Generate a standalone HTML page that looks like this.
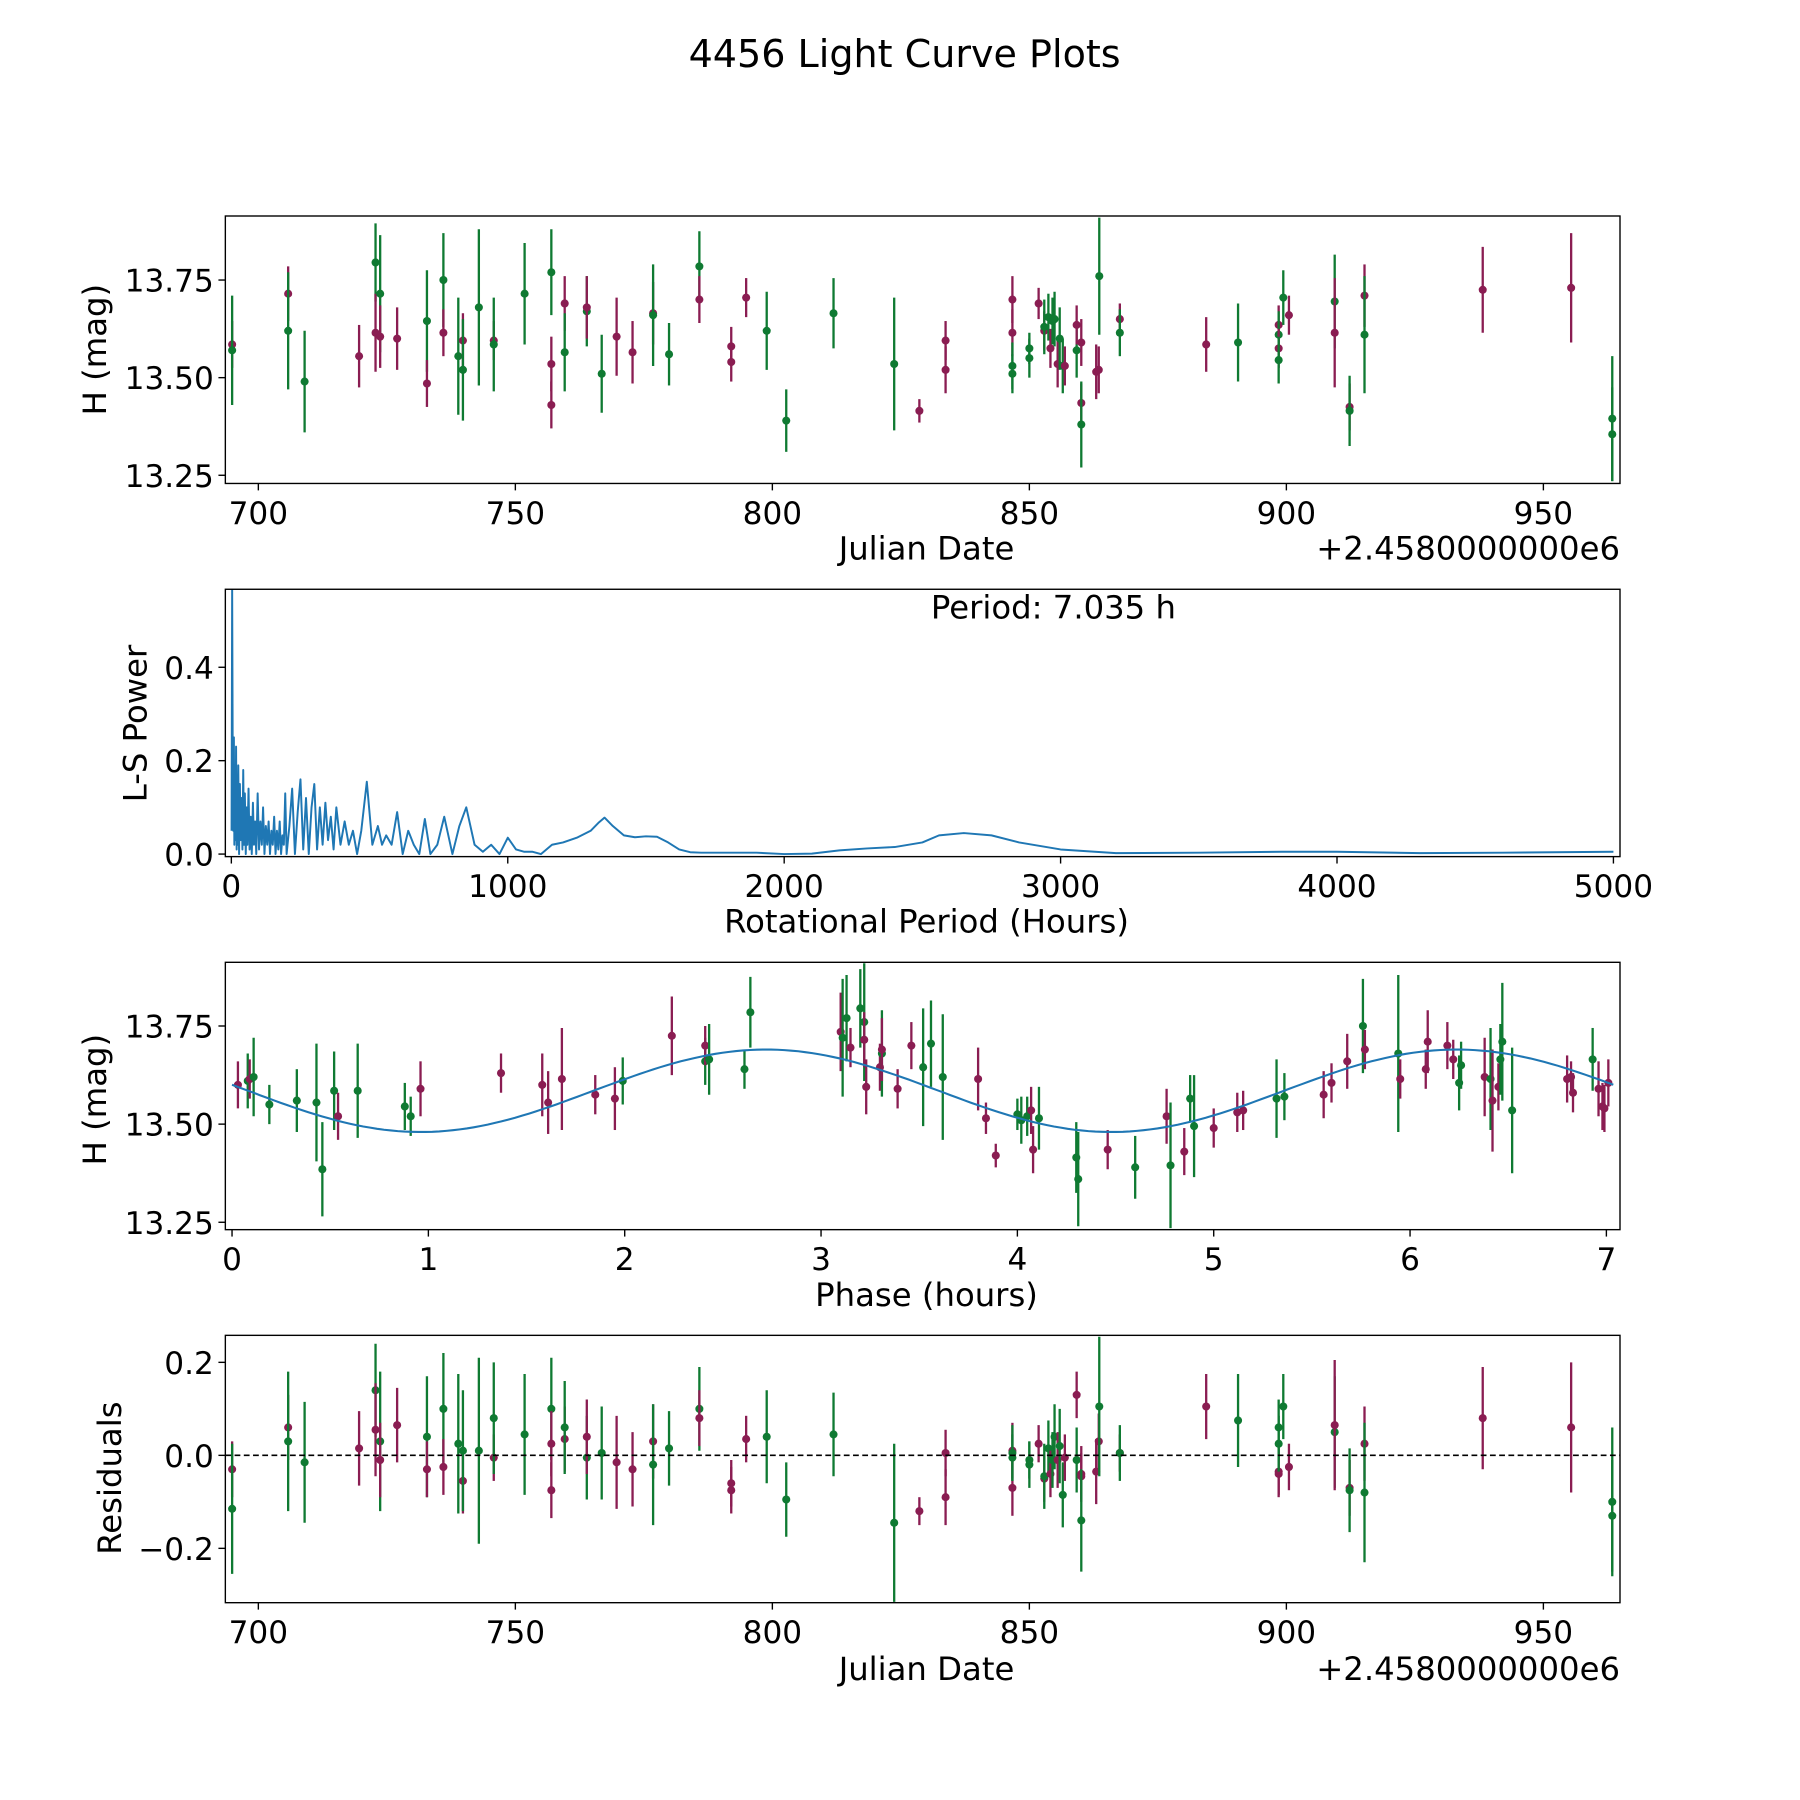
<!DOCTYPE html>
<html><head><meta charset="utf-8"><style>
html,body{margin:0;padding:0;background:#fff}
svg{display:block;font-family:"DejaVu Sans","Liberation Sans",sans-serif}
</style></head><body>
<svg id="fig" width="1800" height="1800" viewBox="0 0 1560 1560" xmlns="http://www.w3.org/2000/svg">
<rect width="1560" height="1560" fill="#fff"/>
<text x="784" y="58" font-size="33" text-anchor="middle">4456 Light Curve Plots</text>
<g id="g1"></g>
<g id="g2"></g>
<g id="g3"></g>
<g id="g4"></g>
</svg>
<script>
// ---- Light curve data (Julian date offset, H mag, error, band) ----
const jd  = [694.9,694.9,705.8,705.8,709.0,719.6,722.8,722.8,723.7,723.7,727.0,732.8,732.8,736.0,736.0,738.9,739.8,739.8,742.9,745.8,745.8,751.8,757.0,757.0,757.0,759.6,759.6,763.9,763.9,766.8,769.7,772.8,776.8,776.8,779.9,785.8,785.8,792.0,792.0,794.9,798.9,802.7,811.9,823.7,828.6,833.7,833.7,846.7,846.7,846.7,846.7,850.0,850.0,851.8,852.9,852.9,853.7,854.1,854.5,854.9,855.5,855.9,856.5,856.9,859.2,859.2,860.1,860.1,860.1,863.0,863.5,863.6,867.6,867.6,884.4,890.6,898.5,898.5,898.5,898.5,899.4,900.5,909.4,909.4,912.3,912.3,915.2,915.2,938.2,955.4,963.4,963.4];
const mag = [13.585,13.57,13.715,13.62,13.49,13.555,13.795,13.615,13.715,13.605,13.60,13.645,13.485,13.75,13.615,13.555,13.595,13.52,13.68,13.595,13.585,13.715,13.77,13.535,13.43,13.69,13.565,13.67,13.68,13.51,13.605,13.565,13.665,13.66,13.56,13.785,13.70,13.58,13.54,13.705,13.62,13.39,13.665,13.535,13.415,13.595,13.52,13.70,13.615,13.53,13.51,13.575,13.55,13.69,13.62,13.63,13.655,13.575,13.645,13.65,13.535,13.60,13.53,13.53,13.57,13.635,13.59,13.435,13.38,13.515,13.52,13.76,13.65,13.615,13.585,13.59,13.635,13.61,13.575,13.545,13.705,13.66,13.695,13.615,13.425,13.415,13.71,13.61,13.725,13.73,13.395,13.355];
const err = [0.06,0.14,0.07,0.15,0.13,0.08,0.1,0.1,0.15,0.08,0.08,0.13,0.06,0.12,0.06,0.15,0.07,0.13,0.2,0.05,0.12,0.13,0.11,0.07,0.06,0.07,0.1,0.09,0.08,0.1,0.1,0.08,0.08,0.13,0.08,0.09,0.06,0.05,0.05,0.05,0.1,0.08,0.09,0.17,0.03,0.05,0.06,0.06,0.06,0.06,0.05,0.04,0.05,0.04,0.05,0.07,0.06,0.05,0.06,0.07,0.06,0.08,0.07,0.05,0.07,0.05,0.06,0.05,0.11,0.07,0.06,0.15,0.04,0.06,0.07,0.1,0.05,0.06,0.05,0.06,0.07,0.05,0.12,0.14,0.06,0.09,0.08,0.15,0.11,0.14,0.16,0.12];
const band= ["P","G","P","G","G","P","G","P","G","P","P","G","P","G","P","G","P","G","G","P","G","G","G","P","P","P","G","G","P","G","P","P","P","G","G","G","P","P","P","P","G","G","G","G","P","P","P","P","P","G","G","G","G","P","P","G","G","P","G","G","P","G","G","P","G","P","P","P","G","P","P","G","P","G","P","G","P","G","P","G","G","P","G","P","P","G","P","G","P","P","G","G"];
const resid=[-0.03,-0.115,0.06,0.03,-0.015,0.015,0.14,0.055,0.03,-0.01,0.065,0.04,-0.03,0.10,-0.025,0.025,-0.055,0.01,0.01,-0.005,0.08,0.045,0.10,0.025,-0.075,0.035,0.06,-0.005,0.04,0.005,-0.015,-0.03,0.03,-0.02,0.015,0.10,0.08,-0.06,-0.075,0.035,0.04,-0.095,0.045,-0.145,-0.12,0.005,-0.09,0.01,-0.07,0.005,-0.005,-0.01,-0.02,0.025,-0.05,-0.045,0.015,-0.04,-0.01,0.04,-0.01,0.02,-0.085,-0.005,-0.01,0.13,-0.04,-0.045,-0.14,-0.035,0.03,0.105,0.005,0.005,0.105,0.075,-0.035,0.06,-0.04,0.025,0.105,-0.025,0.05,0.065,-0.07,-0.075,0.025,-0.08,0.08,0.06,-0.10,-0.13];
// ---- Phase-folded data ----
const phs = [0.03,0.08,0.09,0.11,0.19,0.33,0.43,0.46,0.52,0.54,0.64,0.88,0.91,0.96,1.37,1.58,1.61,1.68,1.85,1.95,1.99,2.24,2.41,2.41,2.43,2.61,2.64,3.10,3.11,3.13,3.15,3.20,3.22,3.22,3.23,3.30,3.31,3.31,3.39,3.46,3.52,3.56,3.62,3.80,3.84,3.89,4.00,4.02,4.05,4.07,4.08,4.11,4.30,4.31,4.46,4.60,4.76,4.78,4.85,4.88,4.90,5.00,5.12,5.15,5.32,5.36,5.56,5.60,5.68,5.76,5.77,5.94,5.95,6.08,6.09,6.19,6.22,6.25,6.26,6.38,6.41,6.42,6.45,6.46,6.47,6.52,6.80,6.82,6.83,6.93,6.96,6.98,6.99,7.01];
const pmag= [13.60,13.61,13.615,13.62,13.55,13.56,13.555,13.385,13.585,13.52,13.585,13.545,13.52,13.59,13.63,13.60,13.555,13.615,13.575,13.565,13.61,13.725,13.66,13.70,13.665,13.64,13.785,13.735,13.72,13.77,13.695,13.795,13.76,13.715,13.595,13.645,13.68,13.69,13.59,13.70,13.645,13.705,13.62,13.615,13.515,13.42,13.525,13.51,13.52,13.535,13.435,13.515,13.415,13.36,13.435,13.39,13.52,13.395,13.43,13.565,13.495,13.49,13.53,13.535,13.565,13.57,13.575,13.605,13.66,13.75,13.69,13.68,13.615,13.64,13.71,13.70,13.665,13.605,13.65,13.62,13.615,13.56,13.595,13.665,13.71,13.535,13.615,13.62,13.58,13.665,13.59,13.545,13.54,13.605];
const perr= [0.06,0.07,0.05,0.1,0.05,0.08,0.15,0.12,0.1,0.06,0.12,0.06,0.05,0.07,0.05,0.08,0.08,0.13,0.05,0.08,0.06,0.1,0.06,0.05,0.09,0.05,0.09,0.1,0.15,0.11,0.05,0.1,0.15,0.07,0.07,0.06,0.11,0.08,0.05,0.06,0.15,0.11,0.16,0.08,0.04,0.03,0.04,0.06,0.05,0.06,0.06,0.08,0.09,0.12,0.05,0.08,0.07,0.16,0.06,0.06,0.13,0.05,0.05,0.05,0.1,0.06,0.06,0.05,0.07,0.12,0.05,0.2,0.05,0.05,0.08,0.06,0.05,0.07,0.06,0.1,0.13,0.13,0.06,0.09,0.15,0.16,0.06,0.04,0.05,0.08,0.07,0.06,0.06,0.06];
const pband=["P","G","P","G","G","G","G","G","G","P","G","G","G","P","P","P","P","P","P","P","G","P","G","P","G","G","G","P","G","G","P","G","G","P","P","P","G","P","P","P","G","G","G","P","P","P","G","G","G","P","P","G","G","G","P","G","P","G","P","G","G","P","P","P","G","G","P","P","P","G","P","G","P","P","P","P","P","G","G","P","G","P","P","G","G","G","P","P","P","G","P","P","P","P"];
// ---- Sinusoid fit params: mean, amplitude, peak phase, sub-period ----
const fitMean=[13.585], fitAmp=[0.105], fitPeak=[2.72], fitSub=[3.5175];
// ---- Periodogram samples ----
const perX=[1,3,5,7,9,11,13,15,17,19,21,23,25,28,31,34,37,40,43,46,49,52,55,58,62,66,70,74,78,82,86,90,95,100,105,110,115,120,125,130,135,140,145,150,155,160,165,170,175,180,185,190,195,200,210,220,230,240,250,260,270,280,290,300,310,320,330,340,350,360,370,380,395,410,425,440,455,470,490,510,530,545,560,580,600,620,640,660,680,700,720,745,770,800,825,850,880,910,940,970,1000,1030,1060,1090,1120,1160,1200,1250,1300,1330,1350,1380,1420,1460,1500,1540,1580,1620,1660,1700,1800,1900,2000,2100,2200,2300,2400,2500,2560,2650,2750,2850,3000,3200,3500,3800,4000,4300,4600,5000];
const perY=[0.05,0.57,0.2,0.05,0.25,0.02,0.18,0.03,0.23,0.01,0.12,0.02,0.19,0.0,0.15,0.03,0.12,0.01,0.18,0.02,0.13,0.0,0.1,0.02,0.14,0.01,0.08,0.0,0.11,0.02,0.07,0.0,0.13,0.01,0.07,0.02,0.1,0.0,0.06,0.02,0.07,0.0,0.05,0.02,0.08,0.0,0.05,0.01,0.07,0.0,0.04,0.02,0.13,0.0,0.06,0.14,0.0,0.09,0.16,0.01,0.12,0.0,0.1,0.15,0.01,0.1,0.02,0.11,0.03,0.08,0.01,0.1,0.02,0.07,0.02,0.05,0.0,0.05,0.155,0.02,0.06,0.02,0.04,0.02,0.09,0.0,0.05,0.02,0.0,0.075,0.0,0.02,0.08,0.0,0.06,0.1,0.02,0.005,0.02,0.0,0.035,0.01,0.005,0.005,0.0,0.02,0.025,0.035,0.05,0.068,0.078,0.06,0.04,0.036,0.038,0.037,0.025,0.01,0.004,0.003,0.003,0.003,0.0,0.001,0.008,0.012,0.015,0.025,0.04,0.045,0.04,0.025,0.01,0.002,0.003,0.005,0.005,0.002,0.003,0.005,0.008];
const tickJD=[700,750,800,850,900,950], tickMag=["13.25","13.50","13.75"], tickPer=[0,1000,2000,3000,4000,5000], tickPow=["0.0","0.2","0.4"], tickPh=[0,1,2,3,4,5,6,7], tickRes=["−0.2","0.0","0.2"];
const tickMagV=[13.25,13.5,13.75], tickPowV=[0,0.2,0.4], tickResV=[-0.2,0,0.2];

const NS="http://www.w3.org/2000/svg";
const COL={P:"#8a1d52",G:"#0f7a32"};
function mk(parent,tag,attrs){const e=document.createElementNS(NS,tag);for(const k in attrs)e.setAttribute(k,attrs[k]);parent.appendChild(e);return e;}
const L=195.3,R=1404;
const FS=27, LS=28;
function lin(d0,d1,r0,r1){return v=>r0+(v-d0)*(r1-r0)/(d1-d0);}
function frame(g,top,bot){
  const r=mk(g,'rect',{x:L,y:top,width:R-L,height:bot-top,fill:'none',stroke:'#000','stroke-width':1.2});
  
  
}
function xticks(g,vals,labels,sx,bot){
  vals.forEach((v,i)=>{const x=sx(v);
    const t=mk(g,'line',{x1:x,x2:x,y1:bot,y2:bot+6,stroke:'#000','stroke-width':1.2});
    
    
    const s=mk(g,'text',{x:x,y:bot+35,'font-size':FS,'text-anchor':'middle'});s.textContent=labels[i];
    
    });
}
function yticks(g,vals,labels,sy){
  vals.forEach((v,i)=>{const y=sy(v);
    const t=mk(g,'line',{x1:L-6,x2:L,y1:y,y2:y,stroke:'#000','stroke-width':1.2});
    
    
    const s=mk(g,'text',{x:L-10,y:y+10,'font-size':FS,'text-anchor':'end'});s.textContent=labels[i];
    
    });
}
function label(g,x,y,txt,rot,name){
  const s=mk(g,'text',{x:x,y:y,'font-size':LS,'text-anchor':'middle'});
  if(rot)s.setAttribute('transform',`rotate(-90 ${x} ${y})`);
  s.textContent=txt;
  
  
}
function points(g,xs,ys,es,bs,sx,sy,top,bot){
  const cp=mk(g,'clipPath',{id:'c'+Math.round(top)});mk(cp,'rect',{x:L,y:top,width:R-L,height:bot-top});
  const cg=mk(g,'g',{});
  cg.setAttribute('clip-path','url(#c'+Math.round(top)+')');
  xs.forEach((xv,i)=>{const x=sx(xv),y=sy(ys[i]),c=COL[bs[i]];
    const ln=mk(cg,'line',{x1:x,x2:x,y1:sy(ys[i]-es[i]),y2:sy(ys[i]+es[i]),stroke:c,'stroke-width':2});
    
    
    const d=mk(cg,'circle',{cx:x,cy:y,r:3.5,fill:c});
    
    });
}
function offsetLabel(g,y){
  const o=mk(g,'text',{x:R,y:y,'font-size':LS,'text-anchor':'end'});o.textContent='+2.4580000000e6';
  
  
}

// Panel 1
(function(){const g=document.getElementById('g1'),top=187.2,bot=419;
 const sx=lin(700,950,223.9,1337.6), sy=lin(13.25,13.75,411.9,242.7);
 points(g,jd,mag,err,band,sx,sy,top,bot);frame(g,top,bot);
 xticks(g,tickJD,tickJD.map(String),sx,bot);yticks(g,tickMagV,tickMag,sy);
 label(g,803,485,'Julian Date',false,'x-axis-title');label(g,92,303,'H (mag)',true,'y-axis-title');
 offsetLabel(g,485);})();
// Panel 2
(function(){const g=document.getElementById('g2'),top=510.7,bot=742.4;
 const sx=lin(0,5000,200.5,1398.3), sy=lin(0,0.4,740.2,578.3);
 const cp=mk(g,'clipPath',{id:'cp2'});mk(cp,'rect',{x:L,y:top,width:R-L,height:bot-top});
 const p=mk(g,'path',{d:perX.map((v,i)=>(i?'L':'M')+sx(v).toFixed(1)+','+sy(perY[i]).toFixed(1)).join(''),fill:'none',stroke:'#1f77b4','stroke-width':1.7,'stroke-linejoin':'round','clip-path':'url(#cp2)'});
 
 
 frame(g,top,bot);xticks(g,tickPer,tickPer.map(String),sx,bot);yticks(g,tickPowV,tickPow,sy);
 label(g,803,808,'Rotational Period (Hours)',false,'x-axis-title');label(g,127,627,'L-S Power',true,'y-axis-title');
 const t=mk(g,'text',{x:913,y:536,'font-size':LS,'text-anchor':'middle'});t.textContent='Period: 7.035 h';
 
 })();
// Panel 3
(function(){const g=document.getElementById('g3'),top=834,bot=1065.7;
 const sx=lin(0,7,201.1,1392.2), sy=lin(13.25,13.75,1059.3,889.2);
 points(g,phs,pmag,perr,pband,sx,sy,top,bot);
 let d='';for(let k=0;k<=200;k++){const p=k*7.035/200;const m=fitMean[0]+fitAmp[0]*Math.cos(2*Math.PI*(p-fitPeak[0])/fitSub[0]);d+=(k?'L':'M')+sx(p).toFixed(1)+','+sy(m).toFixed(1);}
 const c=mk(g,'path',{d:d,fill:'none',stroke:'#1f77b4','stroke-width':1.8});
 
 
 frame(g,top,bot);xticks(g,tickPh,tickPh.map(String),sx,bot);yticks(g,tickMagV,tickMag,sy);
 label(g,803,1132,'Phase (hours)',false,'x-axis-title');label(g,92,953,'H (mag)',true,'y-axis-title');})();
// Panel 4
(function(){const g=document.getElementById('g4'),top=1157.3,bot=1389;
 const sx=lin(700,950,223.9,1337.6), sy=lin(-0.2,0.2,1341.9,1180.7);
 points(g,jd,resid,err,band,sx,sy,top,bot);
 const z=mk(g,'line',{x1:L,x2:R,y1:sy(0),y2:sy(0),stroke:'#000','stroke-width':1.4,'stroke-dasharray':'5,3'});
 
 
 frame(g,top,bot);xticks(g,tickJD,tickJD.map(String),sx,bot);yticks(g,tickResV,tickRes,sy);
 label(g,803,1456,'Julian Date',false,'x-axis-title');label(g,105,1281,'Residuals',true,'y-axis-title');
 offsetLabel(g,1456);})();
</script>
</body></html>
